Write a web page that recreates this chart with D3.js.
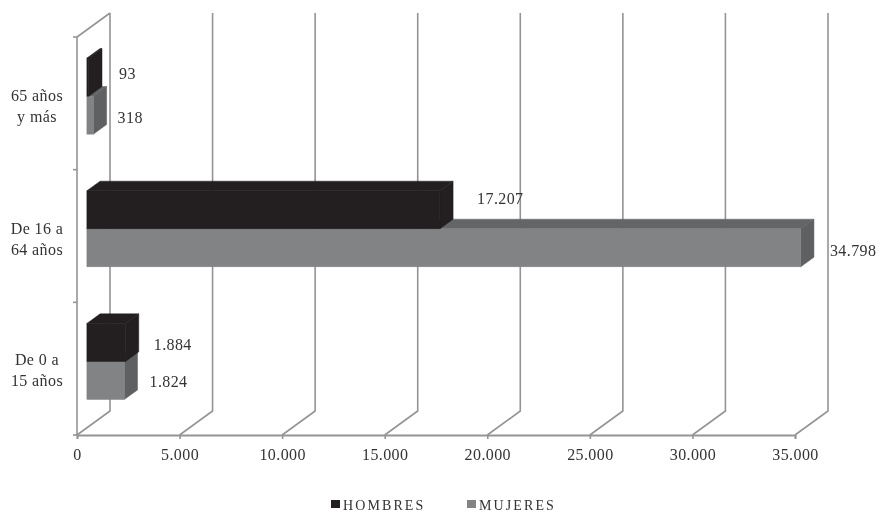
<!DOCTYPE html>
<html lang="es">
<head>
    <meta charset="UTF-8">
    <title>Hombres y mujeres por edad</title>
    <script src="https://d3js.org/d3.v7.min.js"></script>
    <style>
        html, body {
            margin: 0;
            height: 100%;
            background: #fff;
        }
        svg {
            display: block;
            filter: blur(0.6px);
        }
        text {
            font-family: "Liberation Serif", serif;
            font-size: 16px;
            letter-spacing: 0.4px;
            fill: #333;
        }
    </style>
</head>
<body>
<div class="chart"></div>

<script>
    // bottom to top, as on the chart
    var categories = [["De 0 a", "15 años"], ["De 16 a", "64 años"], ["65 años", "y más"]];
    var seriesNames = ["HOMBRES", "MUJERES"];
    var hombres = [1884, 17207, 93];
    var mujeres = [1824, 34798, 318];
    var xTicks = [0, 5000, 10000, 15000, 20000, 25000, 30000, 35000];

    var width = 880, height = 513;
    var depth = {dx: 33, dy: -24};      // floor depth of the 3d box
    var barFront = 0.3, barBack = 0.7;  // where the bars sit inside that depth

    var colors = {
        HOMBRES: {front: "#231f20", top: "#231f20", side: "#231f20"},
        MUJERES: {front: "#828385", top: "#646567", side: "#5f6062"}
    };
    var gridColor = "#949494";

    var es = d3.formatLocale({decimal: ",", thousands: ".", grouping: [3], currency: ["", "€"]});

    var x = d3.scaleLinear().domain([0, 35000]).range([77, 795]);
    var y = d3.scaleBand().domain(d3.range(categories.length)).range([435, 37]);
    var inner = d3.scaleBand().domain(seriesNames).range([0, y.bandwidth()]).paddingInner(0).paddingOuter(0.745);

    var svg = d3.select(".chart").append("svg").attr("width", width).attr("height", height);

    // px, py: point at value v, screen height py, d of the way into the depth
    function px(v, d) { return x(v) + d * depth.dx; }
    function py(yy, d) { return yy + d * depth.dy; }

    // walls
    var grid = svg.append("g").attr("stroke", gridColor).attr("stroke-width", 1.6).attr("fill", "none");
    grid.selectAll("path.wall").data(xTicks).enter().append("path")
        .attr("class", "wall")
        .attr("d", function (t) {
            return "M" + px(t, 0) + "," + py(435, 0) +
                "L" + px(t, 1) + "," + py(435, 1) +
                "L" + px(t, 1) + "," + py(37, 1);
        });
    grid.append("path").attr("d",
        "M" + px(0, 0) + "," + py(37, 0) + "L" + px(0, 1) + "," + py(37, 1));
    grid.append("path").attr("d",
        "M" + px(0, 0) + "," + py(37, 0) + "L" + px(0, 0) + "," + py(435, 0));

    // left ticks sit on the band edges
    grid.selectAll("line.cat").data(d3.range(categories.length + 1)).enter().append("line")
        .attr("class", "cat")
        .attr("x1", x(0) - 4).attr("x2", x(0))
        .attr("y1", function (i) { return i < categories.length ? y(i) + y.bandwidth() : y(i - 1); })
        .attr("y2", function (i) { return i < categories.length ? y(i) + y.bandwidth() : y(i - 1); });

    // bottom axis
    var xAxis = d3.axisBottom(x).tickValues(xTicks).tickSize(4).tickPadding(10)
        .tickFormat(function (d) { return d === 0 ? "0" : es.format(",")(d); });
    var axisG = svg.append("g").attr("transform", "translate(0,435)").call(xAxis);
    axisG.select(".domain").attr("stroke", gridColor).attr("stroke-width", 1.8);
    axisG.selectAll(".tick line").attr("stroke", gridColor).attr("stroke-width", 1.6);
    axisG.selectAll("text").attr("fill", "#333")
        .style("font-family", '"Liberation Serif", serif').style("font-size", "16px");

    // one 3d bar: sides first, then the front
    function drawBar(g, value, top, bottom, c) {
        var x0 = px(0, barFront), x1 = px(value, barFront), x2 = px(value, barBack);
        var xb = px(0, barBack);
        var t0 = py(top, barFront), b0 = py(bottom, barFront);
        var t1 = py(top, barBack), b1 = py(bottom, barBack);
        g.append("path").attr("fill", c.top).attr("stroke", c.top).attr("stroke-width", 0.5)
            .attr("d", "M" + x0 + "," + t0 + "L" + xb + "," + t1 + "L" + x2 + "," + t1 + "L" + x1 + "," + t0 + "Z");
        g.append("path").attr("fill", c.side).attr("stroke", c.side).attr("stroke-width", 0.5)
            .attr("d", "M" + x1 + "," + t0 + "L" + x2 + "," + t1 + "L" + x2 + "," + b1 + "L" + x1 + "," + b0 + "Z");
        g.append("rect").attr("fill", c.front).attr("stroke", c.front).attr("stroke-width", 0.5)
            .attr("x", x0).attr("y", t0).attr("width", x1 - x0).attr("height", b0 - t0);
    }

    var bars = svg.append("g");
    categories.forEach(function (cat, i) {
        var top = y(i);
        var g = bars.append("g");
        drawBar(g, mujeres[i], top + inner("MUJERES"), top + inner("MUJERES") + inner.bandwidth(), colors.MUJERES);
        drawBar(g, hombres[i], top + inner("HOMBRES"), top + inner("HOMBRES") + inner.bandwidth(), colors.HOMBRES);
    });

    // value labels, hand nudged off the bar end like the original
    var nudge = {
        HOMBRES: [[15, 2], [24, -11], [17, -4]],
        MUJERES: [[12, 1], [16, 3], [11, 2]]
    };
    var labels = svg.append("g");
    seriesNames.forEach(function (name) {
        var values = name === "HOMBRES" ? hombres : mujeres;
        values.forEach(function (v, i) {
            var top = y(i) + inner(name);
            labels.append("text")
                .attr("x", px(v, barBack) + nudge[name][i][0])
                .attr("y", py(top + inner.bandwidth() / 2, barFront) + nudge[name][i][1])
                .attr("dy", "0.35em")
                .text(es.format(",")(v));
        });
    });

    // category labels do not sit at the same height in each band
    var catShift = [-4, -2, -2];
    categories.forEach(function (lines, i) {
        var mid = y(i) + y.bandwidth() / 2;
        var t = svg.append("text").attr("text-anchor", "middle");
        lines.forEach(function (line, j) {
            t.append("tspan").attr("x", 37)
                .attr("y", mid + catShift[i] + (j === 0 ? 0 : 21))
                .text(line);
        });
    });

    // legend
    var legendX = d3.scaleOrdinal().domain(seriesNames).range([331, 467]);
    var legend = svg.selectAll("g.legend").data(seriesNames).enter().append("g").attr("class", "legend")
        .attr("transform", function (d) { return "translate(" + legendX(d) + ",500)"; });
    legend.append("rect").attr("width", 9).attr("height", 8)
        .attr("fill", function (d) { return colors[d].front; });
    legend.append("text").attr("x", 12).attr("y", 9.5)
        .style("font-size", "14px")
        .style("letter-spacing", "2.1px")
        .text(function (d) { return d; });
</script>
</body>
</html>
